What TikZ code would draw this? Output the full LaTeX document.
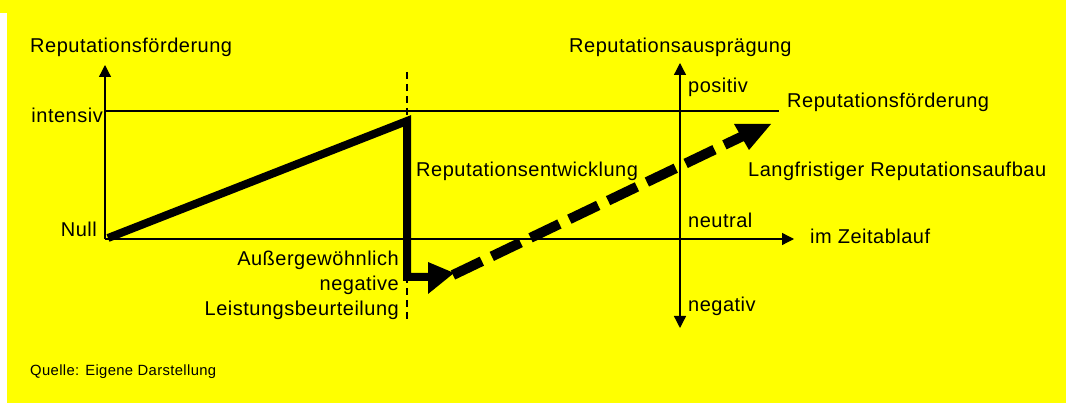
\documentclass[tikz,border=0pt]{standalone}
\usepackage{fontspec}
\setmainfont{Liberation Sans}[LetterSpace=2.5]
\usetikzlibrary{arrows.meta}
\definecolor{bgyellow}{RGB}{255,255,0}
\begin{document}
\begin{tikzpicture}[x=1pt,y=-1pt,
  lbl/.style={inner sep=0pt, font=\fontsize{20}{24}\selectfont},
  small/.style={inner sep=0pt, font=\fontsize{14.8}{18}\selectfont},
  axis/.style={line width=1.3pt, -{Triangle[length=12pt,width=12pt]}},
  guide/.style={line width=1.2pt},
  vdash/.style={line width=1.1pt, dash pattern=on 7pt off 5pt},
  solidtrend/.style={line width=8pt, line join=miter},
  dashtrend/.style={line width=10pt, dash pattern=on 32pt off 11pt},
  tip/.style={fill=black, draw=none}]
\fill[bgyellow] (0,0) rectangle (1066,403);
\fill[white] (0,13) rectangle (7,403);
\useasboundingbox (0,0) rectangle (1066,403);
% coordinates
\coordinate (O) at (105,239);
\coordinate (Ytop) at (105,65);
\coordinate (IntL) at (105,111);
\coordinate (IntR) at (779,111);
\coordinate (Xend) at (794,239);
\coordinate (Rmid) at (680,239);
\coordinate (Rtop) at (680,63);
\coordinate (Rbot) at (680,328);
\coordinate (Dtop) at (407,72);
\coordinate (Dbot) at (407,322);
\coordinate (S0) at (108,238);
\coordinate (S1) at (407,121);
\coordinate (S2) at (407,277);
\coordinate (S3) at (430,277);
\coordinate (D0) at (453,275);
\coordinate (D1) at (745,135);
% axes
\draw[axis] (O) -- (Ytop);
\draw[axis] (O) -- (Xend);
\draw[axis] (Rmid) -- (Rtop);
\draw[axis] (Rmid) -- (Rbot);
\draw[guide] (IntL) -- (IntR);
\draw[vdash] (Dtop) -- (Dbot);
% trend
\draw[solidtrend] (S0) -- (S1) -- (S2) -- (S3);
\fill[tip] (428,262) -- (454,273) -- (428,294) -- cycle;
\draw[dashtrend] (D0) -- (D1);
\fill[tip] (734,124) -- (771,124) -- (749,150) -- cycle;
% labels
\node[lbl, anchor=base west] (t1) at (30,53) {Reputationsförderung};
\node[lbl, anchor=base east] (t2) at (103,123) {intensiv};
\node[lbl, anchor=base east] (t3) at (97,237) {Null};
\node[lbl, anchor=base west] (t4) at (416,177) {Reputationsentwicklung};
\node[lbl, anchor=base east] (t5) at (399,266) {Außergewöhnlich};
\node[lbl, anchor=base east] (t6) at (399,291) {negative};
\node[lbl, anchor=base east] (t7) at (399,316) {Leistungsbeurteilung};
\node[lbl, anchor=base west] (t8) at (569,53) {Reputationsausprägung};
\node[lbl, anchor=base west] (t9) at (688,93) {positiv};
\node[lbl, anchor=base west] (t10) at (787,108) {Reputationsförderung};
\node[lbl, anchor=base west] (t11) at (748,177) {Langfristiger Reputationsaufbau};
\node[lbl, anchor=base west] (t12) at (688,228) {neutral};
\node[lbl, anchor=base west] (t13) at (810,244) {im Zeitablauf};
\node[lbl, anchor=base west] (t14) at (688,312) {negativ};
\node[small, anchor=base west] (t15) at (30,376) {Quelle: Eigene Darstellung};
\end{tikzpicture}
\end{document}
